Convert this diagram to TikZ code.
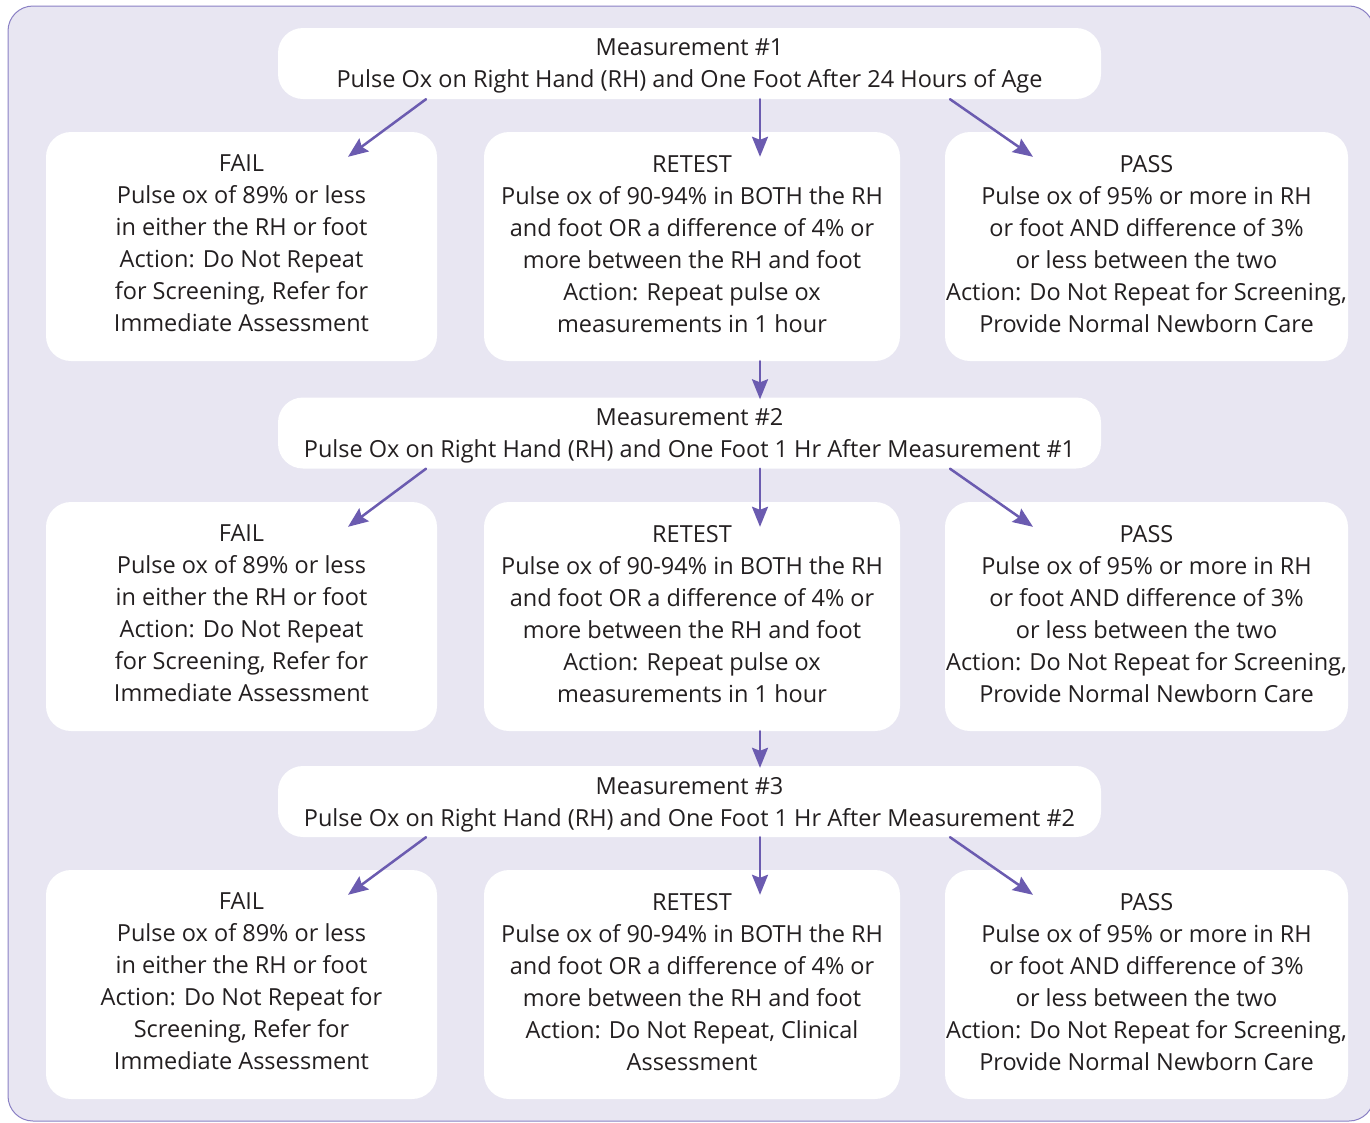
\documentclass[tikz,border=0pt]{standalone}
\usepackage{fontspec}
\setmainfont{Open Sans}
\usetikzlibrary{arrows.meta}
\definecolor{lavbg}{HTML}{E8E6F2}
\definecolor{frameline}{HTML}{8A80C4}
\definecolor{arrowpurple}{HTML}{6B5BB0}
\definecolor{textgray}{HTML}{231F20}

\begin{document}
\begin{tikzpicture}[line cap=round,line join=round,x=1pt,y=-1pt,
  box/.style={fill=white,rounded corners=25pt,align=center,text=textgray,inner sep=0pt,
    font=\fontsize{23.5}{32}\selectfont},
  measbox/.style={box,minimum width=823pt,minimum height=71pt,text depth=0pt},
  resbox/.style={box,minimum height=229pt,text depth=6pt},
  arr/.style={->,>={Stealth[length=20pt,width=16pt,inset=3pt]},color=arrowpurple,line width=2.5pt}]
\useasboundingbox (0,0) rectangle (1370,1122);
\clip (0,0) rectangle (1370,1122);
%hintergrund
\draw[color=frameline,fill=lavbg,line width=1pt,rounded corners=25pt] (8,6) rectangle (1374,1121);

%messung 1
\node[measbox] (m1) at (689.5,63.5) {Measurement \#1\\Pulse Ox on Right Hand (RH) and One Foot After 24 Hours of Age};
\node[resbox,minimum width=391pt] (fail1) at (241.5,246.5) {FAIL\\Pulse ox of 89\% or less\\in either the RH or foot\\Action: Do Not Repeat\\for Screening, Refer for\\Immediate Assessment};
\node[resbox,minimum width=416pt] (retest1) at (692,246.5) {RETEST\\Pulse ox of 90-94\% in BOTH the RH\\and foot OR a difference of 4\% or\\more between the RH and foot\\Action: Repeat pulse ox\\measurements in 1 hour};
\node[resbox,minimum width=403pt] (pass1) at (1146.5,246.5) {PASS\\Pulse ox of 95\% or more in RH\\or foot AND difference of 3\%\\or less between the two\\Action: Do Not Repeat for Screening,\\Provide Normal Newborn Care};

%messung 2
\node[measbox] (m2) at (689.5,433) {Measurement \#2\\Pulse Ox on Right Hand (RH) and One Foot 1 Hr After Measurement \#1};
\node[resbox,minimum width=391pt] (fail2) at (241.5,616.5) {FAIL\\Pulse ox of 89\% or less\\in either the RH or foot\\Action: Do Not Repeat\\for Screening, Refer for\\Immediate Assessment};
\node[resbox,minimum width=416pt] (retest2) at (692,616.5) {RETEST\\Pulse ox of 90-94\% in BOTH the RH\\and foot OR a difference of 4\% or\\more between the RH and foot\\Action: Repeat pulse ox\\measurements in 1 hour};
\node[resbox,minimum width=403pt] (pass2) at (1146.5,616.5) {PASS\\Pulse ox of 95\% or more in RH\\or foot AND difference of 3\%\\or less between the two\\Action: Do Not Repeat for Screening,\\Provide Normal Newborn Care};

%messung 3
\node[measbox] (m3) at (689.5,801.5) {Measurement \#3\\Pulse Ox on Right Hand (RH) and One Foot 1 Hr After Measurement \#2};
\node[resbox,minimum width=391pt] (fail3) at (241.5,984.5) {FAIL\\Pulse ox of 89\% or less\\in either the RH or foot\\Action: Do Not Repeat for\\Screening, Refer for\\Immediate Assessment};
\node[resbox,minimum width=416pt] (retest3) at (692,984.5) {RETEST\\Pulse ox of 90-94\% in BOTH the RH\\and foot OR a difference of 4\% or\\more between the RH and foot\\Action: Do Not Repeat, Clinical\\Assessment};
\node[resbox,minimum width=403pt] (pass3) at (1146.5,984.5) {PASS\\Pulse ox of 95\% or more in RH\\or foot AND difference of 3\%\\or less between the two\\Action: Do Not Repeat for Screening,\\Provide Normal Newborn Care};

%pfeile
\foreach \r in {1,2,3}
{
\draw[arr] ([xshift=-263.5pt]m\r.south) -- ([xshift=106.5pt,yshift=-25pt]fail\r.north);
\draw[arr] ([xshift=70.5pt]m\r.south) -- ([xshift=68pt,yshift=-25pt]retest\r.north);
\draw[arr] ([xshift=260.5pt]m\r.south) -- ([xshift=-113.5pt,yshift=-25pt]pass\r.north);
}
\foreach \r/\s in {1/2,2/3}
\draw[arr] ([xshift=68pt]retest\r.south) -- ([xshift=70.5pt,yshift=-2pt]m\s.north);
\end{tikzpicture}
\end{document}
